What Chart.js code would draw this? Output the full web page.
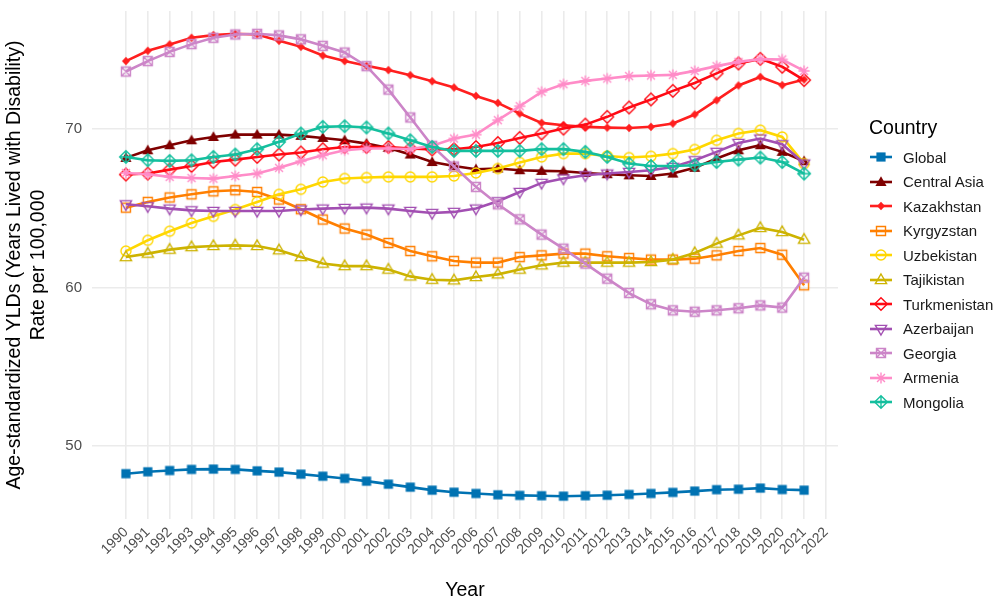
<!DOCTYPE html>
<html>
<head>
<meta charset="utf-8">
<script src="https://cdn.jsdelivr.net/npm/chart.js@4.4.0/dist/chart.umd.min.js"></script>
<style>
  html, body { margin: 0; padding: 0; background: #fff; }
  #wrap { position: relative; width: 1007px; height: 607px; font-family: "Liberation Sans", Arial, sans-serif; }
  #legend { position: absolute; left: 869px; top: 115px; }
  .lg-title { font-size: 19.5px; line-height: 24px; color: #000; margin-bottom: 6px; }
  .lg-item { display: flex; align-items: center; height: 24.5px; font-size: 15px; color: #1a1a1a; }
  .lg-item canvas { margin-left: 1px; margin-right: 11px; }
</style>
</head>
<body>
<div id="wrap">
  <canvas id="chart"></canvas>
  <div id="legend"></div>
</div>
<script>
// years on the x axis, and the tick labels drawn under it
const YEARS = [1990, 1991, 1992, 1993, 1994, 1995, 1996, 1997, 1998, 1999, 2000, 2001, 2002, 2003, 2004, 2005,
  2006, 2007, 2008, 2009, 2010, 2011, 2012, 2013, 2014, 2015, 2016, 2017, 2018, 2019, 2020, 2021];
const X_TICKS = [1990, 1991, 1992, 1993, 1994, 1995, 1996, 1997, 1998, 1999, 2000, 2001, 2002, 2003, 2004, 2005,
  2006, 2007, 2008, 2009, 2010, 2011, 2012, 2013, 2014, 2015, 2016, 2017, 2018, 2019, 2020, 2021, 2022];
const Y_TICKS = [50, 60, 70];

// age-standardized YLD rate per 100,000
const GLOBAL = [48.26, 48.38, 48.46, 48.53, 48.55, 48.53, 48.44, 48.36, 48.23, 48.10, 47.96, 47.79, 47.60, 47.41, 47.22, 47.09,
  47.01, 46.93, 46.89, 46.87, 46.84, 46.87, 46.90, 46.95, 47.01, 47.08, 47.16, 47.25, 47.28, 47.35, 47.26, 47.22];
const CENTRAL_ASIA = [68.19, 68.67, 68.99, 69.30, 69.51, 69.66, 69.66, 69.66, 69.58, 69.45, 69.30, 69.09, 68.82, 68.40, 67.93, 67.68,
  67.47, 67.52, 67.41, 67.37, 67.35, 67.24, 67.16, 67.09, 67.05, 67.20, 67.56, 68.15, 68.67, 68.99, 68.57, 67.98];
const KAZAKHSTAN = [74.30, 74.95, 75.35, 75.77, 75.94, 76.02, 75.98, 75.58, 75.20, 74.65, 74.30, 74.00, 73.73, 73.41, 73.03, 72.63,
  72.10, 71.66, 70.99, 70.40, 70.25, 70.15, 70.10, 70.08, 70.15, 70.36, 70.93, 71.83, 72.76, 73.30, 72.78, 73.14];
const KYRGYZSTAN = [65.05, 65.41, 65.69, 65.89, 66.08, 66.15, 66.04, 65.56, 64.95, 64.30, 63.73, 63.35, 62.82, 62.31, 61.98, 61.68,
  61.58, 61.58, 61.93, 62.04, 62.15, 62.15, 61.98, 61.87, 61.77, 61.77, 61.83, 62.04, 62.31, 62.50, 62.08, 60.15];
const UZBEKISTAN = [62.31, 62.99, 63.56, 64.08, 64.50, 64.93, 65.41, 65.89, 66.21, 66.67, 66.89, 66.95, 66.99, 66.99, 66.99, 67.05,
  67.24, 67.52, 67.90, 68.25, 68.46, 68.46, 68.31, 68.21, 68.29, 68.46, 68.72, 69.30, 69.73, 69.94, 69.51, 67.83];
const TAJIKISTAN = [61.93, 62.15, 62.40, 62.56, 62.63, 62.67, 62.63, 62.36, 61.93, 61.52, 61.36, 61.36, 61.14, 60.71, 60.50, 60.46,
  60.67, 60.84, 61.14, 61.41, 61.58, 61.58, 61.58, 61.58, 61.62, 61.77, 62.19, 62.78, 63.30, 63.77, 63.51, 63.03];
const TURKMENISTAN = [67.14, 67.20, 67.45, 67.68, 67.93, 68.08, 68.25, 68.40, 68.53, 68.74, 68.88, 68.88, 68.88, 68.78, 68.72, 68.74,
  68.88, 69.13, 69.45, 69.73, 70.04, 70.29, 70.78, 71.37, 71.88, 72.42, 72.92, 73.52, 74.15, 74.44, 73.94, 73.10];
const AZERBAIJAN = [65.26, 65.14, 64.99, 64.88, 64.84, 64.84, 64.84, 64.84, 64.93, 64.99, 65.03, 65.05, 64.99, 64.84, 64.71, 64.78,
  64.99, 65.45, 66.04, 66.61, 66.89, 67.09, 67.20, 67.30, 67.41, 67.62, 68.04, 68.57, 69.13, 69.41, 69.05, 67.83];
const GEORGIA = [73.64, 74.30, 74.88, 75.37, 75.77, 75.98, 76.02, 75.92, 75.67, 75.26, 74.84, 73.98, 72.50, 70.74, 68.95, 67.65,
  66.36, 65.26, 64.31, 63.35, 62.46, 61.52, 60.57, 59.66, 58.95, 58.57, 58.48, 58.57, 58.70, 58.88, 58.74, 60.63];
const ARMENIA = [67.24, 67.16, 66.99, 66.92, 66.88, 67.05, 67.20, 67.56, 67.98, 68.36, 68.67, 68.78, 68.78, 68.75, 68.95, 69.41,
  69.66, 70.57, 71.45, 72.36, 72.84, 73.05, 73.20, 73.35, 73.39, 73.43, 73.68, 73.98, 74.25, 74.42, 74.40, 73.68];
const MONGOLIA = [68.25, 68.04, 68.00, 68.04, 68.25, 68.40, 68.74, 69.20, 69.73, 70.15, 70.19, 70.11, 69.73, 69.30, 68.88, 68.63,
  68.63, 68.63, 68.63, 68.74, 68.74, 68.57, 68.25, 67.83, 67.68, 67.68, 67.73, 67.93, 68.08, 68.21, 67.93, 67.20];

const SERIES = [
  { name: "Global", data: GLOBAL, color: "#0072B2", shape: "squareFilled" },
  { name: "Central Asia", data: CENTRAL_ASIA, color: "#7F0000", shape: "triangleFilled" },
  { name: "Kazakhstan", data: KAZAKHSTAN, color: "#FF1F1F", shape: "diamondFilled" },
  { name: "Kyrgyzstan", data: KYRGYZSTAN, color: "#FF7F00", shape: "squareOpen" },
  { name: "Uzbekistan", data: UZBEKISTAN, color: "#FFD700", shape: "circleOpen" },
  { name: "Tajikistan", data: TAJIKISTAN, color: "#CDB300", shape: "triangleOpen" },
  { name: "Turkmenistan", data: TURKMENISTAN, color: "#FF0A14", shape: "diamondOpen" },
  { name: "Azerbaijan", data: AZERBAIJAN, color: "#A24FB2", shape: "triangleDownOpen" },
  { name: "Georgia", data: GEORGIA, color: "#CC85C8", shape: "squareCross" },
  { name: "Armenia", data: ARMENIA, color: "#FF8CC8", shape: "asterisk" },
  { name: "Mongolia", data: MONGOLIA, color: "#14BF9E", shape: "diamondPlus" },
];

const FONT = "'Liberation Sans', Arial, sans-serif";

// ggplot-like point shapes, drawn onto small canvases used as pointStyle
function drawShape(ctx, shape, color, cx, cy) {
  ctx.strokeStyle = color;
  ctx.fillStyle = color;
  ctx.lineWidth = 1.4;
  ctx.beginPath();
  if (shape === "squareFilled") {
    ctx.rect(cx - 4.6, cy - 4.6, 9.2, 9.2);
    ctx.fill();
  } else if (shape === "triangleFilled") {
    ctx.moveTo(cx, cy - 5.8); ctx.lineTo(cx + 5.6, cy + 4); ctx.lineTo(cx - 5.6, cy + 4); ctx.closePath();
    ctx.fill();
  } else if (shape === "diamondFilled") {
    ctx.moveTo(cx, cy - 4.3); ctx.lineTo(cx + 4, cy); ctx.lineTo(cx, cy + 4.3); ctx.lineTo(cx - 4, cy); ctx.closePath();
    ctx.fill();
  } else if (shape === "squareOpen") {
    ctx.rect(cx - 4.5, cy - 4.5, 9, 9);
    ctx.stroke();
  } else if (shape === "circleOpen") {
    ctx.arc(cx, cy, 5, 0, Math.PI * 2);
    ctx.stroke();
  } else if (shape === "triangleOpen") {
    ctx.moveTo(cx, cy - 6); ctx.lineTo(cx + 5.6, cy + 3.6); ctx.lineTo(cx - 5.6, cy + 3.6); ctx.closePath();
    ctx.stroke();
  } else if (shape === "triangleDownOpen") {
    ctx.moveTo(cx, cy + 6); ctx.lineTo(cx + 5.6, cy - 3.6); ctx.lineTo(cx - 5.6, cy - 3.6); ctx.closePath();
    ctx.stroke();
  } else if (shape === "diamondOpen") {
    ctx.moveTo(cx, cy - 6.3); ctx.lineTo(cx + 6.3, cy); ctx.lineTo(cx, cy + 6.3); ctx.lineTo(cx - 6.3, cy); ctx.closePath();
    ctx.stroke();
  } else if (shape === "squareCross") {
    ctx.rect(cx - 4.5, cy - 4.5, 9, 9);
    ctx.moveTo(cx - 4.5, cy - 4.5); ctx.lineTo(cx + 4.5, cy + 4.5);
    ctx.moveTo(cx + 4.5, cy - 4.5); ctx.lineTo(cx - 4.5, cy + 4.5);
    ctx.stroke();
  } else if (shape === "asterisk") {
    const r = 5.6, d = r * Math.SQRT1_2;
    ctx.moveTo(cx - r, cy); ctx.lineTo(cx + r, cy);
    ctx.moveTo(cx, cy - r); ctx.lineTo(cx, cy + r);
    ctx.moveTo(cx - d, cy - d); ctx.lineTo(cx + d, cy + d);
    ctx.moveTo(cx + d, cy - d); ctx.lineTo(cx - d, cy + d);
    ctx.stroke();
  } else if (shape === "diamondPlus") {
    ctx.moveTo(cx, cy - 6.3); ctx.lineTo(cx + 6.3, cy); ctx.lineTo(cx, cy + 6.3); ctx.lineTo(cx - 6.3, cy); ctx.closePath();
    ctx.moveTo(cx - 6.3, cy); ctx.lineTo(cx + 6.3, cy);
    ctx.moveTo(cx, cy - 6.3); ctx.lineTo(cx, cy + 6.3);
    ctx.stroke();
  }
}

function markerCanvas(shape, color) {
  const c = document.createElement("canvas");
  c.width = 16; c.height = 16;
  drawShape(c.getContext("2d"), shape, color, 8, 8);
  return c;
}

function legendSymbol(shape, color) {
  const c = document.createElement("canvas");
  c.width = 22; c.height = 16;
  const ctx = c.getContext("2d");
  ctx.strokeStyle = color;
  ctx.lineWidth = 2.6;
  ctx.beginPath(); ctx.moveTo(0, 8); ctx.lineTo(22, 8); ctx.stroke();
  drawShape(ctx, shape, color, 11, 8);
  return c;
}

function renderLegend() {
  const box = document.getElementById("legend");
  const title = document.createElement("div");
  title.className = "lg-title";
  title.textContent = "Country";
  box.appendChild(title);
  SERIES.forEach((s) => {
    const row = document.createElement("div");
    row.className = "lg-item";
    row.appendChild(legendSymbol(s.shape, s.color));
    const label = document.createElement("span");
    label.textContent = s.name;
    row.appendChild(label);
    box.appendChild(row);
  });
}

function renderChart() {
  const ctx = document.getElementById("chart");
  new Chart(ctx, {
    type: "line",
    data: {
      labels: YEARS,
      datasets: SERIES.map((s, i) => ({
        label: s.name,
        data: s.data,
        borderColor: s.color,
        backgroundColor: s.color,
        borderWidth: 2.6,
        pointStyle: markerCanvas(s.shape, s.color),
        pointRadius: 5,
        tension: 0,
        fill: false,
        order: SERIES.length - i,
      })),
    },
    options: {
      responsive: true,
      maintainAspectRatio: false,
      animation: false,
      layout: { padding: { left: 0, right: 169, top: 11, bottom: 0 } },
      plugins: { legend: { display: false }, tooltip: { enabled: false } },
      scales: {
        x: {
          type: "linear",
          min: 1988.45,
          max: 2022.55,
          afterBuildTicks: (scale) => { scale.ticks = X_TICKS.map((v) => ({ value: v })); },
          afterFit: (scale) => { scale.height = 88; scale.paddingLeft = 0; scale.paddingRight = 0; },
          border: { display: false },
          grid: { color: "#ebebeb", lineWidth: 1.6, drawTicks: false },
          ticks: {
            autoSkip: false, maxRotation: 45, minRotation: 45, padding: 5,
            color: "#4d4d4d", font: { size: 14, family: FONT },
            callback: (v) => String(v),
          },
          title: {
            display: true, text: "Year", color: "#000",
            font: { size: 19.5, family: FONT },
            padding: { top: 0, bottom: 5 },
          },
        },
        y: {
          min: 45.4,
          max: 77.46,
          afterBuildTicks: (scale) => { scale.ticks = Y_TICKS.map((v) => ({ value: v })); },
          afterFit: (scale) => { scale.width = 92; scale.paddingTop = 0; scale.paddingBottom = 0; },
          border: { display: false },
          grid: { color: "#ebebeb", lineWidth: 1.6, drawTicks: false },
          ticks: {
            padding: 10, color: "#4d4d4d",
            font: { size: 15, family: FONT },
          },
          title: {
            display: true,
            text: ["Age-standardized YLDs (Years Lived with Disability)", "Rate per 100,000"],
            color: "#000",
            font: { size: 19.5, lineHeight: "24px", family: FONT },
            padding: { top: 3, bottom: 0 },
          },
        },
      },
    },
  });
}

renderLegend();
renderChart();
</script>
</body>
</html>
